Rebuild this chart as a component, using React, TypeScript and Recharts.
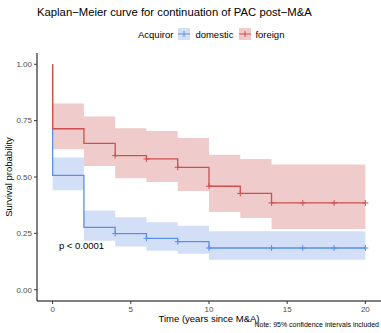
import { ComposedChart, Line, Area, Scatter, XAxis, YAxis, ReferenceDot, Label } from 'recharts';

// Kaplan-Meier estimates by acquiror type (step points, time in years)
const domesticTime = [0, 0, 2, 4, 6, 8, 10, 20];
const domesticSurv = [1, 0.507, 0.277, 0.249, 0.228, 0.213, 0.185, 0.185];
const foreignTime = [0, 0, 2, 4, 6, 8, 10, 12, 14, 20];
const foreignSurv = [1, 0.714, 0.649, 0.595, 0.58, 0.543, 0.459, 0.427, 0.385, 0.385];

// 95% confidence bands
const domesticBandTime = [0, 2, 4, 6, 8, 10, 20];
const domesticLower = [0.441, 0.217, 0.192, 0.173, 0.16, 0.133, 0.133];
const domesticUpper = [0.587, 0.351, 0.321, 0.299, 0.284, 0.259, 0.259];
const foreignBandTime = [0, 2, 4, 6, 8, 10, 12, 14, 20];
const foreignLower = [0.623, 0.549, 0.494, 0.478, 0.438, 0.345, 0.318, 0.269, 0.269];
const foreignUpper = [0.826, 0.768, 0.716, 0.704, 0.673, 0.599, 0.58, 0.555, 0.555];

// censoring times
const domesticCensor = [4, 6, 8, 10, 14, 16, 18, 20];
const foreignCensor = [4, 6, 8, 10, 12, 14, 16, 18, 20];

const xTicks = [0, 5, 10, 15, 20];
const yTicks = [0, 0.25, 0.5, 0.75, 1];

const BLUE = '#5b8fe8';
const BLUE_FILL = '#d3dff7';
const RED = '#cf4f4f';
const RED_FILL = '#efcbcb';
const FONT = '"Liberation Sans", Arial, sans-serif';

const curve = (time: number[], surv: number[]) => time.map((t, i) => ({ t, s: surv[i] }));
const band = (time: number[], lo: number[], hi: number[]) =>
    time.map((t, i) => ({ t, ci: [lo[i], hi[i]] }));

// survival value at time t (after any drop at t)
const survAt = (time: number[], surv: number[], t: number) => {
    let s = surv[0];
    time.forEach((tt, i) => {
        if (tt <= t) s = surv[i];
    });
    return s;
};
const censor = (times: number[], time: number[], surv: number[]) =>
    times.map((t) => ({ t, s: survAt(time, surv, t) }));

const plusShape = (color: string) => (props: any) => {
    const { cx, cy } = props;
    return (
        <g stroke={color} strokeWidth={1}>
            <line x1={cx - 3} x2={cx + 3} y1={cy} y2={cy} />
            <line x1={cx} x2={cx} y1={cy - 3} y2={cy + 3} />
        </g>
    );
};

const LegendKey = ({ line, fill }: { line: string; fill: string }) => (
    <svg width={12} height={12} style={{ display: 'block' }}>
        <rect x={0} y={0} width={12} height={12} fill={fill} />
        <line x1={0} x2={12} y1={6} y2={6} stroke={line} strokeWidth={1} />
        <line x1={6} x2={6} y1={3} y2={9} stroke={line} strokeWidth={1} />
    </svg>
);

const App = () => {
    return (
        <div style={{ position: 'relative', width: 381, height: 333, background: '#fff', fontFamily: FONT }}>
            <style>{'body{margin:0}'}</style>
            <div style={{ position: 'absolute', left: 37, top: 6, fontSize: 11.3, color: '#000', whiteSpace: 'nowrap' }}>
                Kaplan−Meier curve for continuation of PAC post−M&amp;A
            </div>
            <div
                style={{
                    position: 'absolute',
                    left: 138,
                    top: 28,
                    display: 'flex',
                    alignItems: 'center',
                    fontSize: 9.5,
                    color: '#000',
                    whiteSpace: 'nowrap',
                }}
            >
                <span style={{ marginRight: 5 }}>Acquiror</span>
                <LegendKey line={BLUE} fill={BLUE_FILL} />
                <span style={{ marginLeft: 5, marginRight: 6 }}>domestic</span>
                <LegendKey line={RED} fill={RED_FILL} />
                <span style={{ marginLeft: 4 }}>foreign</span>
            </div>
            <div style={{ position: 'absolute', right: 2, top: 321, fontSize: 7, color: '#000', whiteSpace: 'nowrap' }}>
                Note: 95% confidence intervals included
            </div>
            <ComposedChart
                width={381}
                height={333}
                margin={{ top: 53, right: 0, bottom: 0, left: 0 }}
                style={{ position: 'absolute', left: 0, top: 0 }}
            >
                <XAxis
                    dataKey="t"
                    type="number"
                    domain={[-1, 21]}
                    ticks={xTicks}
                    allowDataOverflow
                    height={32}
                    tickSize={3}
                    stroke="#000"
                    tickLine={{ stroke: '#333' }}
                    tick={{ fill: '#4d4d4d', fontSize: 8, fontFamily: FONT }}
                >
                    <Label
                        content={(p: any) => (
                            <text
                                x={p.viewBox.x + p.viewBox.width / 2}
                                y={p.viewBox.y + 21}
                                textAnchor="middle"
                                fontSize={9.5}
                                fontFamily={FONT}
                                fill="#000"
                            >
                                Time (years since M&amp;A)
                            </text>
                        )}
                    />
                </XAxis>
                <YAxis
                    type="number"
                    domain={[-0.05, 1.05]}
                    ticks={yTicks}
                    allowDataOverflow
                    width={37}
                    tickSize={3}
                    stroke="#000"
                    tickLine={{ stroke: '#333' }}
                    tickFormatter={(v: number) => v.toFixed(2)}
                    tick={{ fill: '#4d4d4d', fontSize: 8, fontFamily: FONT }}
                >
                    <Label
                        content={(p: any) => {
                            const x = p.viewBox.x + 12;
                            const y = p.viewBox.y + p.viewBox.height / 2;
                            return (
                                <text
                                    x={x}
                                    y={y}
                                    transform={`rotate(-90 ${x} ${y})`}
                                    textAnchor="middle"
                                    fontSize={9.5}
                                    fontFamily={FONT}
                                    fill="#000"
                                >
                                    Survival probability
                                </text>
                            );
                        }}
                    />
                </YAxis>

                <Area
                    data={band(domesticBandTime, domesticLower, domesticUpper)}
                    dataKey="ci"
                    type="stepAfter"
                    stroke="none"
                    fill={BLUE_FILL}
                    fillOpacity={1}
                    isAnimationActive={false}
                />
                <Area
                    data={band(foreignBandTime, foreignLower, foreignUpper)}
                    dataKey="ci"
                    type="stepAfter"
                    stroke="none"
                    fill={RED_FILL}
                    fillOpacity={1}
                    isAnimationActive={false}
                />
                <Line
                    data={curve(domesticTime, domesticSurv)}
                    dataKey="s"
                    type="stepAfter"
                    stroke={BLUE}
                    strokeWidth={1.3}
                    dot={false}
                    isAnimationActive={false}
                />
                <Line
                    data={curve(foreignTime, foreignSurv)}
                    dataKey="s"
                    type="stepAfter"
                    stroke={RED}
                    strokeWidth={1.3}
                    dot={false}
                    isAnimationActive={false}
                />
                <Scatter
                    data={censor(domesticCensor, domesticTime, domesticSurv)}
                    dataKey="s"
                    shape={plusShape(BLUE)}
                    isAnimationActive={false}
                />
                <Scatter
                    data={censor(foreignCensor, foreignTime, foreignSurv)}
                    dataKey="s"
                    shape={plusShape(RED)}
                    isAnimationActive={false}
                />
                <ReferenceDot x={0.4} y={0.195} r={0} fill="none" stroke="none">
                    <Label
                        content={(p: any) => (
                            <text
                                x={p.viewBox.x}
                                y={p.viewBox.y}
                                dy={3}
                                fontSize={9.5}
                                fontFamily={FONT}
                                fill="#000"
                            >
                                p &lt; 0.0001
                            </text>
                        )}
                    />
                </ReferenceDot>
            </ComposedChart>
        </div>
    );
};

export default App;
